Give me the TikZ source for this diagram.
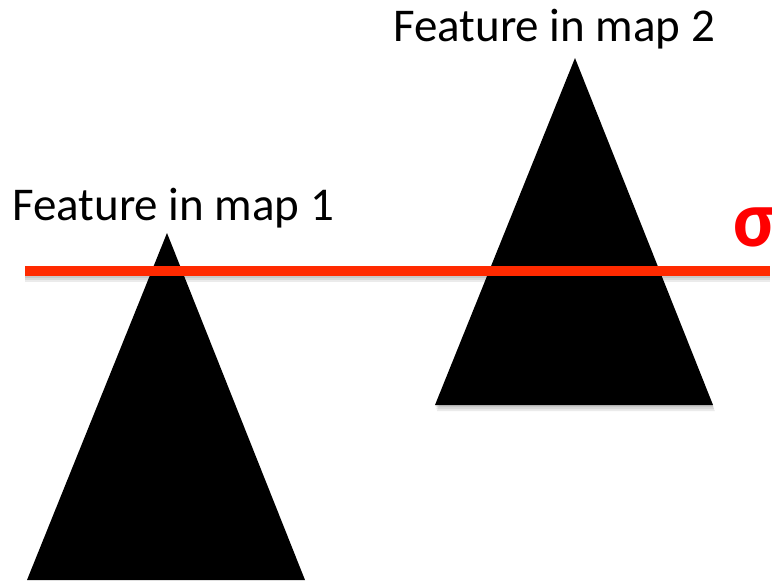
\documentclass[tikz,border=0pt]{standalone}
\usepackage{fontspec}
\setmainfont{Carlito}
\definecolor{cutred}{HTML}{FF2A00}
\definecolor{sigmared}{HTML}{FF0000}
\begin{document}
\begin{tikzpicture}[x=1pt,y=-1pt,
  label text/.style={font=\fontsize{47}{56}\selectfont, inner sep=0pt, anchor=base west},
  peak/.style={fill=black, draw=none},
  peak shadow/.style={fill=black, fill opacity=0.08, draw=none}]
\useasboundingbox (0,0) rectangle (772,582);
% soft drop shadows
\foreach \d in {2,4,6} {
  \fill[peak shadow] (435+\d*0.3,405+\d) -- (575,58+\d) -- (713+\d*0.3,405+\d) -- cycle;
  \fill[black, fill opacity=0.08] (25,266+\d) rectangle (770,276+\d);
}
% features
\fill[peak] (27,580) -- (167,233) -- (305,580) -- cycle;
\fill[peak] (435,405) -- (575,58) -- (713,405) -- cycle;
% threshold line
\fill[cutred] (25,266) rectangle (770,276);
% labels
\node[label text] (f1) at (12,220) {Feature in map 1};
\node[label text] (f2) at (393,41) {Feature in map 2};
\node[font=\bfseries\fontsize{80}{90}\selectfont, text=sigmared, inner sep=0pt, anchor=base west] (sig) at (733,246) {σ};
\end{tikzpicture}
\end{document}
